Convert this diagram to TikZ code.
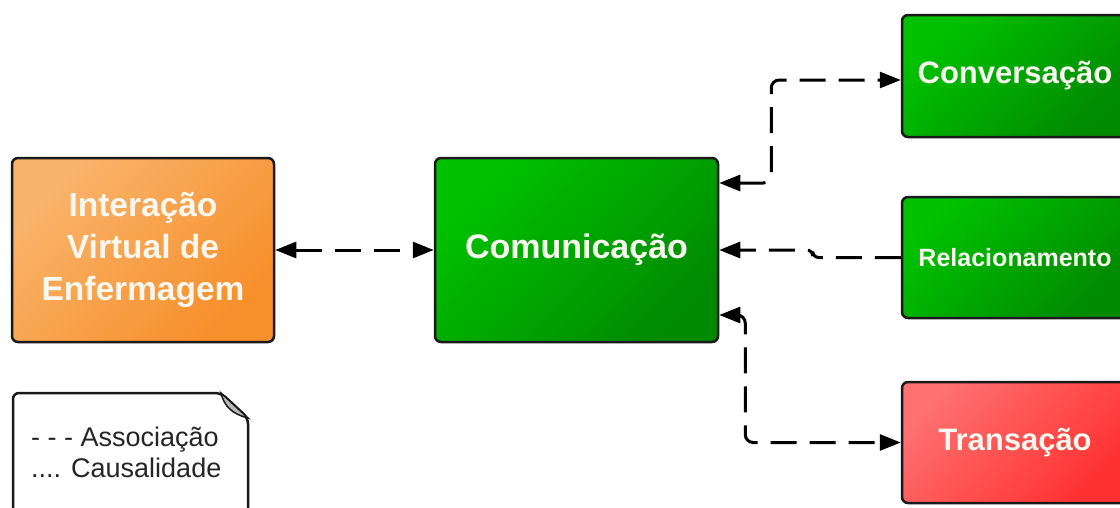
\documentclass[tikz,border=0pt]{standalone}
\usepackage{fontspec}
\setmainfont{Liberation Sans}
\usetikzlibrary{arrows.meta}
\definecolor{orA}{HTML}{F9B46C}
\definecolor{orB}{HTML}{F78F2A}
\definecolor{grA}{HTML}{00C200}
\definecolor{grB}{HTML}{008A00}
\definecolor{rdA}{HTML}{FF7070}
\definecolor{rdB}{HTML}{FF3030}
\definecolor{txt}{HTML}{F8F8F0}
\definecolor{edge}{HTML}{1A1A1A}
\tikzset{
  box/.style={draw=edge, line width=2.5pt, rounded corners=6pt, inner sep=0pt,
    text=txt, font=\bfseries, align=center},
  orangebox/.style={box, top color=orA, bottom color=orB, shading angle=45},
  greenbox/.style={box, top color=grA, bottom color=grB, shading angle=45},
  redbox/.style={box, top color=rdA, bottom color=rdB, shading angle=45},
  conn/.style={line width=3pt, draw=black, dash pattern=on 26pt off 13pt},
}
\begin{document}
\begin{tikzpicture}[x=1pt,y=-1pt]
\clip (0,0) rectangle (1120,507);
\fill[white] (0,0) rectangle (1120,507);
% nodes
\node[orangebox, minimum width=262pt, minimum height=184pt, font=\bfseries\fontsize{33.5}{42}\selectfont] (ora) at (143,250) {Interação\\Virtual de\\Enfermagem};
\node[greenbox, minimum width=283pt, minimum height=184pt, font=\bfseries\fontsize{34}{40}\selectfont] (com) at (576.5,250) {Comunicação};
\node[greenbox, minimum width=226pt, minimum height=122pt, font=\bfseries\fontsize{31}{36}\selectfont] (conv) at (1015,76) {Conversação};
\node[greenbox, minimum width=226pt, minimum height=121pt, font=\bfseries\fontsize{25}{30}\selectfont] (rel) at (1015,257.5) {Relacionamento};
\node[redbox, minimum width=226pt, minimum height=121pt, font=\bfseries\fontsize{31}{36}\selectfont] (tra) at (1015,442.5) {Transação};
% connectors
\draw[conn, {Triangle[length=21pt,width=16pt]}-{Triangle[length=21pt,width=16pt]}] (ora.east) -- (com.west);
\draw[conn, {Triangle[length=21pt,width=16pt]}-{Triangle[length=21pt,width=16pt]}, rounded corners=8pt]
  ([yshift=67pt]com.east) -- ++(52,0) |- ([yshift=-4pt]conv.west);
\draw[conn, -{Triangle[length=21pt,width=16pt]}, rounded corners=6pt]
  (rel.west) -- ++(-88,0) |- (com.east);
\draw[conn, {Triangle[length=21pt,width=16pt]}-{Triangle[length=21pt,width=16pt]}, rounded corners=8pt]
  ([yshift=-65pt]com.east) -- ++(26,0) |- (tra.west);
% legend
\coordinate (lgA) at (13,530);
\coordinate (lgB) at (13,393);
\coordinate (lgC) at (221,393);
\coordinate (lgD) at (248,418);
\coordinate (lgE) at (248,530);
\draw[draw=edge, line width=2.5pt, fill=white, rounded corners=6pt] (lgA) -- (lgB) -- (lgC) -- (lgD) -- (lgE);
\filldraw[fill=gray!55, draw=edge, line width=1.5pt] (lgC) .. controls (224,406) and (232,414) .. (lgD) -- cycle;
\node[anchor=west, align=left, text=black!85, font=\fontsize{27}{31}\selectfont, inner sep=0pt] (leg) at (31,452) {- - - Associação\\.... Causalidade};
\end{tikzpicture}
\end{document}
